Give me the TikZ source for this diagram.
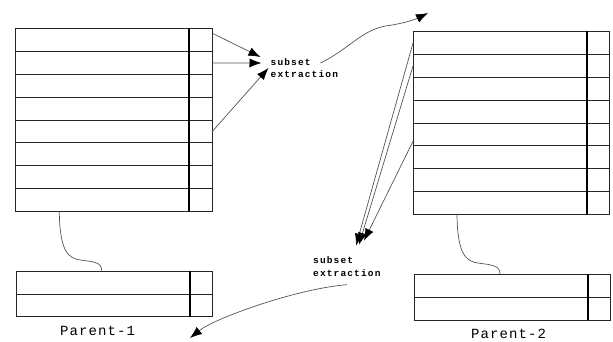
\documentclass[tikz,border=0pt]{standalone}
\usepackage{fontspec}
\newfontfamily\labelfont[LetterSpace=12]{Liberation Mono}
\newfontfamily\parentfont[LetterSpace=8]{Liberation Mono}
\usetikzlibrary{arrows.meta,positioning,shapes.multipart}
\definecolor{linkgray}{gray}{0.33}

\begin{document}
\begin{tikzpicture}[x=1pt, y=-1pt,
    rel/.style={rectangle split, rectangle split parts=#1,
      draw=black!85, line width=0.8pt, inner sep=0pt,
      rectangle split empty part width=192pt,
      rectangle split empty part height=11pt,
      rectangle split empty part depth=11pt},
    key/.style={line width=1.8pt, black},
    feed/.style={draw=linkgray, line width=0.7pt,
      -{Latex[length=12pt,width=9pt,color=black]}},
    tie/.style={draw=linkgray, line width=0.7pt},
    op/.style={font=\labelfont\bfseries\fontsize{9.5}{12.6}\selectfont,
      align=left, inner sep=2pt},
    title/.style={font=\parentfont\fontsize{14}{16}\selectfont}]
  \useasboundingbox (0,0) rectangle (613,341);

  % the two parents and their extracted subsets
  \node[rel=8, anchor=north west] (p1) at (15.3,28.3) {};
  \node[rel=8, anchor=north west] (p2) at (413,31.3) {};
  \node[rel=2, anchor=north west] (c1) at (16,270.7) {};
  \node[rel=2, anchor=north west] (c2) at (414,274) {};
  \foreach \t in {p1,p2,c1,c2}
    \draw[key] ([xshift=-23.4pt]\t.north east) -- ([xshift=-23.4pt]\t.south east);

  \node[op, anchor=west] (ex1) at (268.5,68) {subset\\extraction};
  \node[op, anchor=west] (ex2) at (311,266.7) {subset\\extraction};
  \node[title, below=6pt of c1, xshift=-17pt] (lab1) {Parent-1};
  \node[title, below=5pt of c2, xshift=-4pt] (lab2) {Parent-2};

  \coordinate (out1) at (428,13);
  \coordinate (out2) at (190,338);

  % rows picked from parent 1
  \draw[feed] ([yshift=-5pt]p1.north east) -- ([xshift=-8pt,yshift=11pt]ex1.west);
  \draw[feed] (p1.two east) -- ([xshift=-7pt,yshift=5pt]ex1.west);
  \draw[feed] (p1.five east) -- (ex1.west);
  \draw[feed] ([xshift=52pt,yshift=5pt]ex1.west)
    .. controls +(30,-15) and +(-25,5) .. ++(65,-37)
    .. controls +(22,-3) and +(-10,5) .. (out1);

  % rows picked from parent 2
  \draw[feed] (p2.text west) -- ([xshift=45pt,yshift=21pt]ex2.west);
  \draw[feed] (p2.two west) -- ([xshift=48pt,yshift=22pt]ex2.west);
  \draw[feed] ([yshift=-7pt]p2.five west) -- ([xshift=53pt,yshift=26pt]ex2.west);
  \draw[feed] ([yshift=-6pt]ex2.south) .. controls +(-50,4) and +(25,-20) .. (out2);

  % parent to subset
  \draw[tie] ([xshift=44pt]p1.south west)
    .. controls +(0.5,40) and +(-14,-1.5) .. ++(22.7,48.8)
    .. controls +(13,1.5) and +(0,-8) .. ([xshift=85.7pt]c1.north west);
  \draw[tie] ([xshift=44pt]p2.south west)
    .. controls +(0.5,40) and +(-14,-1.5) .. ++(22.7,48.8)
    .. controls +(13,1.5) and +(0,-8) .. ([xshift=86pt]c2.north west);
\end{tikzpicture}
\end{document}
